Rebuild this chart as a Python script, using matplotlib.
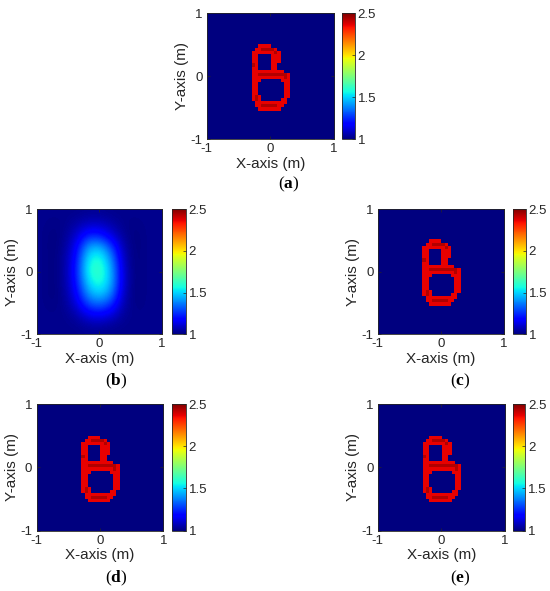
import numpy as np
import matplotlib.pyplot as plt

plt.rcParams['font.family'] = ['Liberation Sans', 'DejaVu Sans']
plt.rcParams['mathtext.fontset'] = 'custom'
plt.rcParams['mathtext.rm'] = 'Liberation Serif'
plt.rcParams['mathtext.bf'] = 'Liberation Serif:bold'

# 40 x 40 pixel reconstruction grid over [-1, 1] m
GRID_N = 40
ROW0, COL0 = 10, 14          # where the digit crop sits in the grid
levels = {'.': 1.0, 'r': 2.36, 'd': 2.43}

# "8" shaped target, rows from top (y = 1) down, cols from left
digit_rows = [
    "..rrrr.......",
    ".rrddddr.....",
    "rrrrrrrdr....",
    "rr....rrr....",
    "rr....rrr....",
    "rr....rrr....",
    "dr....rr.....",
    "rr....rr.....",
    "rrrrrrrrrr...",
    "rrdddddddddr.",
    "rrrrrrrrrrdr.",
    "rrr......rrr.",
    "rr........rr.",
    "rr........rr.",
    "rr........rr.",
    "rr........rr.",
    "rdr.......rr.",
    "rdr......rr..",
    ".rrrrrrrrrr..",
    ".rrdddddrr...",
    "..rrrrrrr....",
]

# blurred reconstruction (b), coarse samples, rows y = 1 .. -1, cols x = -1 .. 1
blob_values = [
    [1.02, 1.02, 1.02, 1.02, 1.03, 1.03, 1.02, 1.02, 1.02, 1.02, 1.02],
    [1.02, 1.01, 1.02, 1.06, 1.10, 1.10, 1.06, 1.02, 1.01, 1.02, 1.02],
    [1.02, 1.00, 1.03, 1.12, 1.26, 1.25, 1.14, 1.04, 1.00, 1.02, 1.02],
    [1.02, 1.00, 1.04, 1.18, 1.45, 1.48, 1.30, 1.07, 1.00, 1.02, 1.02],
    [1.02, 1.00, 1.05, 1.22, 1.55, 1.60, 1.40, 1.09, 1.00, 1.02, 1.02],
    [1.02, 1.00, 1.05, 1.24, 1.58, 1.63, 1.45, 1.11, 1.00, 1.02, 1.02],
    [1.02, 1.00, 1.05, 1.22, 1.52, 1.60, 1.45, 1.11, 1.00, 1.02, 1.02],
    [1.02, 1.00, 1.04, 1.18, 1.42, 1.50, 1.38, 1.09, 1.00, 1.02, 1.02],
    [1.02, 1.01, 1.03, 1.12, 1.28, 1.32, 1.24, 1.06, 1.01, 1.02, 1.02],
    [1.02, 1.02, 1.02, 1.05, 1.12, 1.14, 1.10, 1.03, 1.02, 1.02, 1.02],
    [1.02, 1.02, 1.02, 1.02, 1.03, 1.03, 1.02, 1.02, 1.02, 1.02, 1.02],
]

axis_ticks = [-1, 0, 1]
axis_ticklabels = ['-1', '0', '1']
cbar_ticks = [1, 1.5, 2, 2.5]
cbar_ticklabels = ['1', '1.5', '2', '2.5']
panel_names = ['a', 'b', 'c', 'd', 'e']

W, H = 550, 591
TXT = '#262626'


def px(left, top, w, h):
    return [left / W, 1 - (top + h) / H, w / W, h / H]


def digit_image(rows):
    img = np.full((GRID_N, GRID_N), levels['.'])
    for r, line in enumerate(rows):
        for c, ch in enumerate(line):
            img[ROW0 + r, COL0 + c] = levels[ch]
    return img


fig = plt.figure(figsize=(W / 100, H / 100), dpi=100)

digit = digit_image(digit_rows)
blob = np.array(blob_values)

# (axes rect, colorbar rect, label position) in pixels
layout = {
    'a': ((206.7, 13.3, 127.3, 125.7), (342.3, 13.3, 12.7, 125.7), (289, 184)),
    'b': ((36.7, 209, 125.5, 125.3), (172.3, 209, 13.4, 125.3), (116, 381)),
    'c': ((377.7, 209, 126.3, 125.3), (513.3, 209, 12.4, 125.3), (460, 381)),
    'd': ((36.5, 404, 127, 126.7), (172.3, 404, 13.4, 126.7), (116, 578)),
    'e': ((377.7, 404, 127.3, 126.7), (513.3, 404, 12.2, 126.7), (460, 578)),
}

for name in panel_names:
    rect, crect, (lx, ly) = layout[name]
    ax = fig.add_axes(px(*rect))
    if name == 'b':
        im = ax.imshow(blob, cmap='jet', vmin=1, vmax=2.5, extent=[-1, 1, -1, 1],
                       interpolation='bicubic', aspect='auto')
    else:
        im = ax.imshow(digit, cmap='jet', vmin=1, vmax=2.5, extent=[-1, 1, -1, 1],
                       interpolation='nearest', aspect='auto')
    ax.set_xticks(axis_ticks)
    ax.set_xticklabels(axis_ticklabels)
    ax.set_yticks(axis_ticks)
    ax.set_yticklabels(axis_ticklabels)
    ax.tick_params(direction='in', length=2, width=0.5, labelsize=9.5, colors=TXT, pad=3,
                   top=True, right=True)
    for s in ax.spines.values():
        s.set_color(TXT)
        s.set_linewidth(0.6)
    ax.set_xlabel('X-axis (m)', fontsize=11, color=TXT, labelpad=1)
    ax.set_ylabel('Y-axis (m)', fontsize=11, color=TXT, labelpad=1)

    cax = fig.add_axes(px(*crect))
    cb = fig.colorbar(im, cax=cax, ticks=cbar_ticks)
    cb.ax.set_yticklabels(cbar_ticklabels)
    cb.ax.tick_params(direction='in', length=2, width=0.5, labelsize=9.5, colors=TXT, pad=2)
    cb.outline.set_edgecolor(TXT)
    cb.outline.set_linewidth(0.6)

    fig.text(lx / W, 1 - ly / H, '(' + r'$\mathbf{' + name + '}$' + ')',
             family='Liberation Serif', fontsize=12.5, ha='center', va='center', color='black')

fig.savefig('out.png', dpi=100)
